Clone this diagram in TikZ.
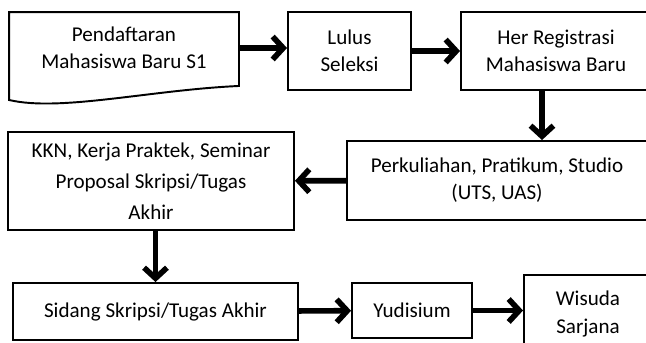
\documentclass[tikz,border=0pt]{standalone}
\usepackage{fontspec}
\setmainfont{Carlito}
\usetikzlibrary{arrows.meta}

\begin{document}
\begin{tikzpicture}[x=0.02cm, y=-0.02cm, line width=1.1pt,
    box/.style={draw, rectangle, inner sep=0pt, align=center,
        font=\fontsize{12}{15.4}\selectfont},
    arr/.style={line width=3.2pt, -{Straight Barb[length=6pt,width=13pt]}}]
    \def\u{0.02cm}

    \useasboundingbox (0,0) rectangle (646,342);
    \clip (0,0) rectangle (646,342);

    % baris atas
    \node[box, draw=none, minimum width=228*\u, minimum height=70*\u] (pend) at (124,48) {Pendaftaran\\Mahasiswa Baru S1};
    \draw (pend.north west) -- (pend.north east) -- ([yshift=-2*\u]pend.south east)
        .. controls (150,90) and (60,112) .. ([yshift=-16*\u]pend.south west) -- cycle;
    \node[box, minimum width=123*\u, minimum height=78*\u] (lulus) at (349.5,51) {Lulus\\Seleksi};
    \node[box, minimum width=190*\u, minimum height=78*\u] (herreg) at (556,51) {Her Registrasi\\Mahasiswa Baru};

    % baris tengah
    \node[box, minimum width=300*\u, minimum height=79*\u] (perk) at (497,180.5) {Perkuliahan, Pratikum, Studio\\(UTS, UAS)};
    \node[box, minimum width=286*\u, minimum height=98*\u, font=\fontsize{12}{17.5}\selectfont] (kkn) at (151,181) {KKN, Kerja Praktek, Seminar\\Proposal Skripsi/Tugas\\Akhir};

    % baris bawah
    \node[box, minimum width=285*\u, minimum height=57*\u] (sidang) at (155.5,311.5) {Sidang Skripsi/Tugas Akhir};
    \node[box, minimum width=120*\u, minimum height=55*\u] (yud) at (412,310.5) {Yudisium};
    \node[box, minimum width=128*\u, minimum height=78*\u] (wis) at (588,314) {Wisuda\\Sarjana};

    %\draw[arr] (pend) -- (lulus);
    \draw[arr] (pend.east) -- (pend.east -| lulus.west);
    \draw[arr] (lulus) -- (herreg);
    \draw[arr] ([xshift=-14*\u]herreg.south) -- ([xshift=-14*\u]herreg.south |- perk.north);
    \draw[arr] (perk) -- (kkn);
    \draw[arr] (sidang.north |- kkn.south) -- (sidang.north);
    \draw[arr] (sidang) -- (yud);
    \draw[arr] (yud.east) -- (yud.east -| wis.west);

\end{tikzpicture}
\end{document}
